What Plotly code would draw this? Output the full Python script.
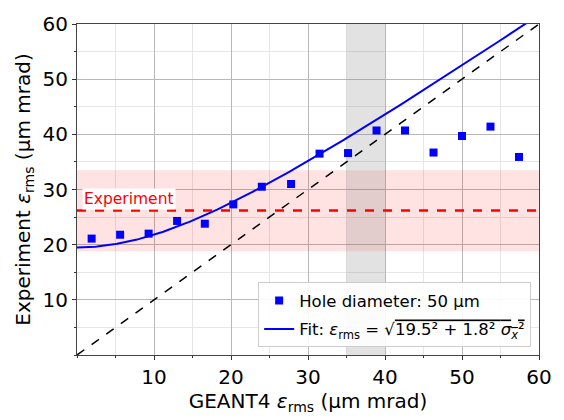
import numpy as np
import plotly.graph_objects as go

# Data
geant4_eps = [1.9, 5.6, 9.3, 13.0, 16.6, 20.3, 24.0, 27.8, 31.5, 35.2, 38.9, 42.6, 46.3, 50.0, 53.7, 57.4]
exp_eps = [21.1, 21.8, 22.0, 24.3, 23.8, 27.3, 30.5, 31.0, 36.5, 36.6, 40.7, 40.7, 36.7, 39.7, 41.4, 35.9]

# Fit parameters (curve drawn as function of GEANT4 emittance)
fit_eps0 = 19.5
fit_scale = 0.975

experiment_mean = 26.2
experiment_low = 18.8
experiment_high = 33.5
gray_band = [35, 40]

tick_vals = [10, 20, 30, 40, 50, 60]
axis_range = [0, 60]

xf = np.linspace(0, 60, 301)
yf = np.sqrt(fit_eps0**2 + (fit_scale * xf) ** 2)

FONT = "DejaVu Sans"
fig = go.Figure()

fig.add_trace(go.Scatter(x=axis_range, y=axis_range, mode="lines",
                         line=dict(color="black", width=1.5, dash="dash"),
                         showlegend=False, hoverinfo="skip"))
fig.add_trace(go.Scatter(x=axis_range, y=[experiment_mean, experiment_mean], mode="lines",
                         line=dict(color="#ff0000", width=2.5, dash="dash"),
                         showlegend=False))
fig.add_trace(go.Scatter(x=geant4_eps, y=exp_eps, mode="markers",
                         marker=dict(symbol="square", size=8, color="#0000ff"),
                         legendgroup="a",
                         name="Hole diameter: 50 μm"))
fig.add_trace(go.Scatter(x=xf, y=yf, mode="lines",
                         line=dict(color="#0000ff", width=2),
                         legendgroup="b",
                         name="Fit: <i>ε</i><sub>rms</sub> = √<span style='text-decoration:overline'>19.5² + 1.8² <i>σ</i><sub><i>x</i></sub>²</span>"))

fig.add_shape(type="rect", xref="x", yref="y", x0=axis_range[0], x1=axis_range[1],
              y0=experiment_low, y1=experiment_high,
              fillcolor="rgba(255,0,0,0.11)", line=dict(width=0), layer="between")
fig.add_shape(type="rect", xref="x", yref="y", x0=gray_band[0], x1=gray_band[1],
              y0=axis_range[0], y1=axis_range[1],
              fillcolor="rgba(128,128,128,0.23)", line=dict(width=0), layer="between")

fig.add_annotation(x=0.6, y=28.2, xref="x", yref="y", text="Experiment",
                   showarrow=False, xanchor="left", yanchor="middle",
                   font=dict(color="#ff0000", size=15.5, family=FONT),
                   bgcolor="white", borderpad=1)

axis_common = dict(range=axis_range, tickvals=tick_vals, ticks="outside", ticklen=4,
                   tickcolor="#333333", showline=True, linecolor="#444444", linewidth=1,
                   mirror=True, showgrid=True, gridcolor="#b8b8b8", gridwidth=1,
                   zeroline=False, tickfont=dict(size=20, family=FONT, color="black"),
                   minor=dict(dtick=5, showgrid=True, gridcolor="#e6e6e6", ticks="outside",
                              ticklen=2, tickcolor="#333333"))

fig.update_xaxes(title=dict(text="GEANT4 <i>ε</i><sub>rms</sub> (μm mrad)",
                            font=dict(size=20, family=FONT, color="black"), standoff=5),
                 **axis_common)
fig.update_yaxes(title=dict(text="Experiment <i>ε</i><sub>rms</sub> (μm mrad)",
                            font=dict(size=20, family=FONT, color="black"), standoff=6),
                 **axis_common)

fig.update_layout(width=564, height=420,
                  margin=dict(l=77, r=23, t=18, b=56),
                  paper_bgcolor="white", plot_bgcolor="white",
                  font=dict(family=FONT),
                  legend=dict(x=0.983, y=0.023, xanchor="right", yanchor="bottom",
                              bgcolor="rgba(255,255,255,0.9)", bordercolor="#cccccc",
                              borderwidth=1, itemwidth=30,
                              traceorder="grouped", tracegroupgap=4,
                              font=dict(size=16.5, family=FONT, color="black")))

fig.write_html("out.html")
